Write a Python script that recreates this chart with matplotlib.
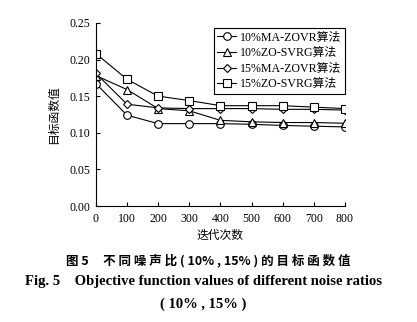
import matplotlib
matplotlib.use("Agg")
import matplotlib.pyplot as plt

plt.rcParams['font.family'] = ['Liberation Serif', 'Noto Sans CJK SC']

iters = [0, 100, 200, 300, 400, 500, 600, 700, 800]
ma10 = [0.167, 0.124, 0.1125, 0.1125, 0.1125, 0.1116, 0.110, 0.109, 0.108]
zo10 = [0.178, 0.159, 0.133, 0.130, 0.117, 0.115, 0.114, 0.114, 0.113]
ma15 = [0.181, 0.139, 0.134, 0.133, 0.133, 0.133, 0.132, 0.132, 0.131]
zo15 = [0.208, 0.173, 0.150, 0.144, 0.137, 0.137, 0.137, 0.135, 0.133]
labels = ['10%MA-ZOVR算法', '10%ZO-SVRG算法', '15%MA-ZOVR算法', '15%ZO-SVRG算法']
markers = ['o', '^', 'D', 's']
msizes = [5.5, 5.5, 4.2, 5.5]
yticks = [0.00, 0.05, 0.10, 0.15, 0.20, 0.25]
xticks = [0, 100, 200, 300, 400, 500, 600, 700, 800]

fig = plt.figure(figsize=(4.17, 3.22), dpi=100)
ax = fig.add_axes([0.230, 0.360, 0.597, 0.569])

for data, lab, m, ms in zip([ma10, zo10, ma15, zo15], labels, markers, msizes):
    ax.plot(iters, data, color='black', lw=0.8, marker=m, markersize=ms,
            markerfacecolor='white', markeredgecolor='black', markeredgewidth=0.8,
            label=lab)

ax.set_xlim(0, 800)
ax.set_ylim(0, 0.25)
ax.set_xticks(xticks)
ax.set_yticks(yticks)
ax.set_yticklabels([f'{v:.2f}' for v in yticks])
ax.spines['top'].set_visible(False)
ax.spines['right'].set_visible(False)
for s in ['left', 'bottom']:
    ax.spines[s].set_linewidth(0.8)
ax.tick_params(direction='in', length=3, width=0.8, labelsize=8.5)
ax.tick_params(axis='x', pad=5)
ax.tick_params(axis='y', pad=4)
for lab in ax.get_xticklabels() + ax.get_yticklabels():
    lab.set_clip_on(False)

ax.set_xlabel('迭代次数', fontsize=8.5, family=['Noto Sans CJK SC'], labelpad=3)
ax.set_ylabel('目标函数值', fontsize=8.5, family=['Noto Sans CJK SC'])
ax.yaxis.set_label_coords(-0.145, 0.5)

leg = ax.legend(loc='upper right', bbox_to_anchor=(1.01, 0.985), fontsize=8.6,
                frameon=True, fancybox=False, edgecolor='black', framealpha=1,
                handlelength=1.6, handletextpad=0.3, labelspacing=0.3,
                borderpad=0.3, borderaxespad=0.2)
leg.get_frame().set_linewidth(0.8)

fig.text(0.5, 1 - 260/322, '图 5     不 同 噪 声 比 ( 10% , 15% ) 的 目 标 函 数 值', ha='center', va='center',
         fontsize=9, fontweight='bold', family=['Noto Sans CJK SC'])
fig.text(0.487, 1 - 282/322, 'Fig. 5    Objective function values of different noise ratios',
         ha='center', va='center', fontsize=10.5, fontweight='bold', family=['Liberation Serif'])
fig.text(0.487, 1 - 304/322, '( 10% , 15% )', ha='center', va='center',
         fontsize=10.5, fontweight='bold', family=['Liberation Serif'])

fig.savefig('out.png', dpi=100, facecolor='white')
